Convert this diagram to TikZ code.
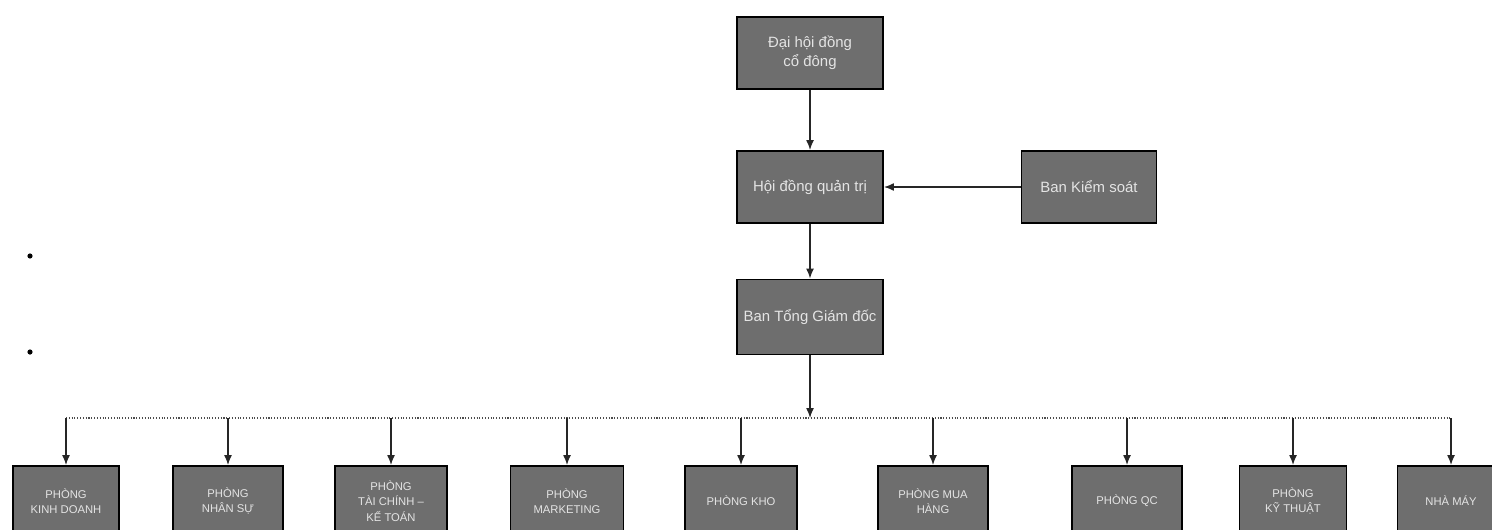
\documentclass[tikz,border=0pt]{standalone}
\usepackage{fontspec}
\setmainfont{Liberation Sans}
\usepackage{xcolor}
\usepackage{tikz}
\usetikzlibrary{arrows.meta, positioning, calc}

\definecolor{boxgray}{HTML}{6E6E6E}
\definecolor{boxtext}{HTML}{E4E4E4}

\begin{document}
\begin{tikzpicture}[
        x=0.2mm, y=-0.2mm,
        every node/.style={align=center},
        board/.style={
            rectangle,
            draw=black, line width=1.1pt,
            fill=boxgray, text=boxtext,
            font=\fontsize{8.5}{10.8}\selectfont,
            minimum width=2.92cm, minimum height=1.44cm,
            inner sep=2pt
        },
        dept/.style={
            rectangle,
            draw=black, line width=1.1pt,
            fill=boxgray, text=boxtext,
            font=\fontsize{6.4}{8.8}\selectfont,
            minimum width=2.2cm, minimum height=1.4cm,
            inner sep=2pt
        },
        arr/.style={-{Latex[length=2mm,width=1.6mm]}, line width=0.8pt, black!85},
        busline/.style={line width=0.6pt, black!70, densely dotted}
    ]
    \clip (0,0) rectangle (1492,529);

    % top of the chart
    \node[board] (dhcd) at (810,53) {Đại hội đồng\\cổ đông};
    \node[board] (hdqt) at (810,187) {Hội đồng quản trị};
    \node[board, minimum width=2.7cm] (bks) at (1089,187) {Ban Kiểm soát};
    \node[board, minimum height=1.5cm] (btgd) at (810,317) {Ban Tổng Giám đốc};

    % departments
    \node[dept, minimum width=2.12cm] (pkd) at (66,501) {PHÒNG\\KINH DOANH};
    \node[dept] (pns) at (228,501) {PHÒNG\\NHÂN SỰ};
    \node[dept, minimum width=2.24cm] (ptc) at (391,501) {PHÒNG\\TÀI CHÍNH –\\KẾ TOÁN};
    \node[dept, minimum width=2.26cm] (pmk) at (567,501) {PHÒNG\\MARKETING};
    \node[dept, minimum width=2.24cm] (pkho) at (741,501) {PHÒNG KHO};
    \node[dept] (pmh) at (933,501) {PHÒNG MUA\\HÀNG};
    \node[dept] (pqc) at (1127,501) {PHÒNG QC};
    \node[dept, minimum width=2.14cm] (pkt) at (1293,501) {PHÒNG\\KỸ THUẬT};
    \node[dept, minimum width=2.14cm] (nm) at (1451,501) {NHÀ MÁY};

    \coordinate (bus) at (810,418);

    \draw[arr] (dhcd) -- (hdqt);
    \draw[arr] (bks) -- (hdqt);
    \draw[arr] (hdqt) -- (btgd);
    \draw[arr] (btgd.south) -- (bus);

    \draw[busline] (pkd.north |- bus) -- (nm.north |- bus);
    \draw[arr] (pkd.north |- bus) -- (pkd.north);
    \draw[arr] (pns.north |- bus) -- (pns.north);
    \draw[arr] (ptc.north |- bus) -- (ptc.north);
    \draw[arr] (pmk.north |- bus) -- (pmk.north);
    \draw[arr] (pkho.north |- bus) -- (pkho.north);
    \draw[arr] (pmh.north |- bus) -- (pmh.north);
    \draw[arr] (pqc.north |- bus) -- (pqc.north);
    \draw[arr] (pkt.north |- bus) -- (pkt.north);
    \draw[arr] (nm.north |- bus) -- (nm.north);

    % two marks at the left edge
    \fill (30,256) circle (2.6);
    \fill (30,352) circle (2.6);
\end{tikzpicture}
\end{document}
